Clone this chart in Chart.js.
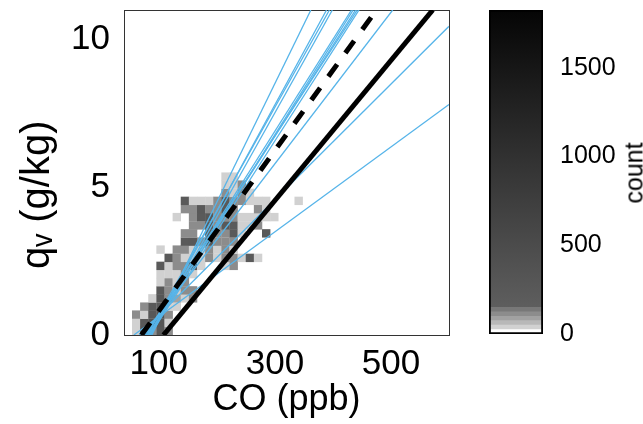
<!DOCTYPE html>
<html>
<head>
<meta charset="utf-8">
<script src="https://cdn.jsdelivr.net/npm/chart.js@4.4.1/dist/chart.umd.min.js"></script>
<style>
  html, body { margin: 0; padding: 0; background: #fff; }
  #wrap { position: relative; width: 643px; height: 424px; overflow: hidden; }
  #main { position: absolute; left: 0; top: 0; width: 460px; height: 424px; }
  #bar { position: absolute; left: 460px; top: 0; width: 183px; height: 424px; }
  #countLabel {
    position: absolute; left: 634px; top: 173px;
    transform: translate(-50%, -50%) rotate(-90deg);
    font: 25px 'Liberation Sans', 'DejaVu Sans', sans-serif; color: #000;
  }
</style>
</head>
<body>
<div id="wrap">
  <canvas id="main" width="460" height="424"></canvas>
  <canvas id="bar" width="183" height="424"></canvas>
  <div id="countLabel">count</div>
</div>
<script>
Chart.defaults.font.family = "'Liberation Sans', 'DejaVu Sans', sans-serif";
Chart.defaults.color = '#000';

// axes
const xTicks = [100, 300, 500];
const yTicks = [0, 5, 10];
const countTicks = [0, 500, 1000, 1500];
const binCO = 14;      // histogram bin width (ppb)

// 2D histogram: bin centres and counts, row by row from the bottom
const cellCO = [
  61, 75, 89, 103, 117,
  61, 75, 89, 103, 117,
  61, 75, 89, 103, 117,
  75, 89, 103, 117, 131,
  89, 103, 117, 131, 145, 159,
  103, 117, 131, 145, 159,
  103, 117, 131, 145,
  103, 117, 131, 145, 159,
  103, 117, 131, 145, 159, 173, 215, 229,
  117, 131, 145, 159, 173, 187, 201, 215, 229, 243, 257, 271,
  103, 131, 145, 159, 173, 187, 201, 215, 229,
  145, 159, 173, 187, 201, 215, 229,
  145, 159, 187, 201, 215, 229, 243, 285,
  159, 173, 187, 201, 215, 229, 243, 257, 271,
  131, 159, 173, 187, 201, 215, 229, 243, 257, 271, 285, 299,
  145, 159, 173, 187, 201, 215, 229, 271, 285,
  145, 159, 173, 187, 201, 215, 229, 243, 257, 271, 285, 341,
  215, 229, 243, 257,
  215, 229, 243,
  215, 229
];
const cellQv = [
  0.14, 0.14, 0.14, 0.14, 0.14,
  0.41, 0.41, 0.41, 0.41, 0.41,
  0.69, 0.69, 0.69, 0.69, 0.69,
  0.96, 0.96, 0.96, 0.96, 0.96,
  1.24, 1.24, 1.24, 1.24, 1.24, 1.24,
  1.51, 1.51, 1.51, 1.51, 1.51,
  1.79, 1.79, 1.79, 1.79,
  2.06, 2.06, 2.06, 2.06, 2.06,
  2.34, 2.34, 2.34, 2.34, 2.34, 2.34, 2.34, 2.34,
  2.61, 2.61, 2.61, 2.61, 2.61, 2.61, 2.61, 2.61, 2.61, 2.61, 2.61, 2.61,
  2.89, 2.89, 2.89, 2.89, 2.89, 2.89, 2.89, 2.89, 2.89,
  3.16, 3.16, 3.16, 3.16, 3.16, 3.16, 3.16,
  3.44, 3.44, 3.44, 3.44, 3.44, 3.44, 3.44, 3.44,
  3.71, 3.71, 3.71, 3.71, 3.71, 3.71, 3.71, 3.71, 3.71,
  3.99, 3.99, 3.99, 3.99, 3.99, 3.99, 3.99, 3.99, 3.99, 3.99, 3.99, 3.99,
  4.26, 4.26, 4.26, 4.26, 4.26, 4.26, 4.26, 4.26, 4.26,
  4.54, 4.54, 4.54, 4.54, 4.54, 4.54, 4.54, 4.54, 4.54, 4.54, 4.54, 4.54,
  4.81, 4.81, 4.81, 4.81,
  5.09, 5.09, 5.09,
  5.36, 5.36
];
const cellCount = [
  35, 300, 110, 260, 110,
  35, 250, 380, 300, 40,
  110, 40, 260, 350, 115,
  110, 250, 230, 40, 35,
  35, 300, 110, 90, 35, 110,
  260, 115, 40, 110, 110,
  35, 110, 40, 115,
  40, 35, 45, 110, 30,
  230, 40, 110, 115, 220, 35, 40, 110,
  240, 110, 40, 35, 40, 110, 40, 115, 110, 35, 230, 40,
  35, 110, 115, 40, 35, 110, 40, 115, 40,
  230, 250, 110, 260, 115, 110, 110,
  110, 115, 240, 110, 115, 230, 40, 250,
  110, 115, 240, 110, 250, 230, 40, 35, 110,
  35, 110, 230, 260, 115, 110, 110, 40, 35, 35, 35, 30,
  110, 115, 250, 110, 115, 260, 110, 110, 35,
  230, 40, 35, 40, 110, 250, 115, 110, 35, 35, 35, 30,
  110, 40, 110, 35,
  35, 40, 110,
  35, 40
];

// fitted lines: CO where qv = 0, and end point at the frame
const blueStartCO = [88, 84, 80, 86, 78, 83, 81, 76, 85, 74, 66, 57];
const blueStartQv = [0, 0, 0, 0, 0, 0, 0, 0, 0, 0, 0, 0];
const blueEndCO = [362, 389, 394, 399, 432, 435, 439, 442, 445, 503, 600, 600];
const blueEndQv = [11, 11, 11, 11, 11, 11, 11, 11, 11, 11, 10.45, 7.8];
const solidCO = [108, 572];
const solidQv = [0, 11];
const dashCO = [70, 475];
const dashQv = [0, 11];

// gray colormap
const cmapCounts = [0, 25, 50, 75, 100, 125, 150, 1825];
const cmapGrays = [1.0, 0.82, 0.72, 0.63, 0.55, 0.47, 0.37, 0.02];

function countGray(c) {
  if (c >= cmapCounts[6]) {
    const t = (c - cmapCounts[6]) / (cmapCounts[7] - cmapCounts[6]);
    return cmapGrays[6] + t * (cmapGrays[7] - cmapGrays[6]);
  }
  let i = 0;
  while (c >= cmapCounts[i + 1]) i++;
  return cmapGrays[i];
}
function grayCss(g) {
  const v = Math.round(g * 255);
  return 'rgb(' + v + ',' + v + ',' + v + ')';
}

const frame = { display: true, color: '#333', width: 1 };
const BLUE = '#56B4E9';

const datasets = [];
datasets.push({
  data: solidCO.map((x, i) => ({ x: x, y: solidQv[i] })),
  showLine: true, borderColor: '#000', borderWidth: 5, pointRadius: 0, order: 0
});
datasets.push({
  data: dashCO.map((x, i) => ({ x: x, y: dashQv[i] })),
  showLine: true, borderColor: '#000', borderWidth: 5, borderDash: [15, 14],
  pointRadius: 0, order: 0
});
blueStartCO.forEach((x0, i) => {
  datasets.push({
    data: [{ x: x0, y: blueStartQv[i] }, { x: blueEndCO[i], y: blueEndQv[i] }],
    showLine: true, borderColor: BLUE, borderWidth: 1.3, pointRadius: 0, order: 1
  });
});
datasets.push({
  data: cellCO.map((x, i) => ({ x: x, y: cellQv[i] })),
  showLine: false,
  pointStyle: 'rect',
  pointRadius: ctx => {
    const s = ctx.chart.scales.x;
    return (s.getPixelForValue(s.min + binCO) - s.getPixelForValue(s.min)) / Math.SQRT2 + 0.2;
  },
  pointBackgroundColor: cellCount.map(c => grayCss(countGray(c))),
  pointBorderWidth: 0,
  order: 2
});

const noPadX = s => { s.paddingLeft = 0; s.paddingRight = 0; };
const noPadY = s => { s.paddingTop = 0; s.paddingBottom = 0; };

new Chart(document.getElementById('main'), {
  type: 'scatter',
  data: { datasets: datasets },
  options: {
    responsive: false,
    animation: false,
    events: [],
    layout: { padding: 0 },
    plugins: { legend: { display: false }, tooltip: { enabled: false } },
    scales: {
      x: {
        type: 'linear', position: 'bottom', min: 40, max: 600,
        afterBuildTicks: s => { s.ticks = xTicks.map(v => ({ value: v })); },
        afterFit: s => { s.height = 89; noPadX(s); },
        grid: { display: false }, border: frame,
        ticks: { font: { size: 35 }, padding: 0, maxRotation: 0, autoSkip: false },
        title: { display: true, text: 'CO (ppb)', font: { size: 36 }, padding: { top: 0, bottom: 2 } }
      },
      y: {
        type: 'linear', position: 'left', min: 0, max: 11,
        afterBuildTicks: s => { s.ticks = yTicks.map(v => ({ value: v })); },
        afterFit: s => { s.width = 124; noPadY(s); },
        grid: { display: false }, border: frame,
        ticks: { font: { size: 35 }, padding: 6, autoSkip: false },
        title: { display: true, text: 'qᵥ (g/kg)    ', font: { size: 40 }, padding: { top: 14, bottom: 0 } }
      },
      xTop: {
        type: 'linear', position: 'top', min: 40, max: 600,
        afterFit: s => { s.height = 10; noPadX(s); },
        grid: { display: false }, border: frame, ticks: { display: false }
      },
      yRight: {
        type: 'linear', position: 'right', min: 0, max: 11,
        afterFit: s => { s.width = 11; noPadY(s); },
        grid: { display: false }, border: frame, ticks: { display: false }
      }
    }
  }
});

// colour bar
const barSets = [];
for (let i = 0; i < 6; i++) {
  barSets.push({
    data: [[cmapCounts[i], cmapCounts[i + 1]]],
    backgroundColor: grayCss(cmapGrays[i]),
    borderWidth: 0, grouped: false, barPercentage: 1, categoryPercentage: 1, order: 1
  });
}
barSets.push({
  data: [[cmapCounts[6], cmapCounts[7]]],
  backgroundColor: ctx => {
    const chart = ctx.chart;
    if (!chart.chartArea) return grayCss(cmapGrays[6]);
    const y = chart.scales.y;
    const g = chart.ctx.createLinearGradient(0, y.getPixelForValue(cmapCounts[6]), 0, y.getPixelForValue(cmapCounts[7]));
    g.addColorStop(0, grayCss(cmapGrays[6]));
    g.addColorStop(1, grayCss(cmapGrays[7]));
    return g;
  },
  borderWidth: 0, grouped: false, barPercentage: 1, categoryPercentage: 1, order: 1
});
barSets.push({
  data: [[cmapCounts[0], cmapCounts[7]]],
  backgroundColor: 'rgba(0,0,0,0)', borderColor: '#000', borderWidth: 1.5,
  borderSkipped: false, grouped: false, barPercentage: 1, categoryPercentage: 1, order: 0
});

new Chart(document.getElementById('bar'), {
  type: 'bar',
  data: { labels: [''], datasets: barSets },
  options: {
    responsive: false,
    animation: false,
    events: [],
    layout: { padding: { left: 29, top: 10, bottom: 90, right: 0 } },
    plugins: { legend: { display: false }, tooltip: { enabled: false } },
    scales: {
      x: { display: false },
      y: {
        position: 'right', min: 0, max: cmapCounts[7],
        afterBuildTicks: s => { s.ticks = countTicks.map(v => ({ value: v })); },
        afterFit: s => { s.width = 100; noPadY(s); },
        grid: { display: false }, border: { display: false },
        ticks: { font: { size: 25 }, padding: 9, autoSkip: false, callback: v => String(v) }
      }
    }
  }
});
</script>
</body>
</html>
